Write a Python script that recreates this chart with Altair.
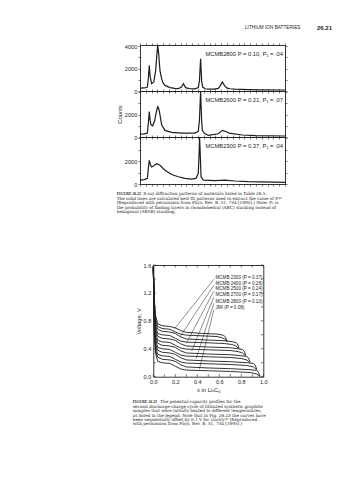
import altair as alt
import pandas as pd

SANS = "Liberation Sans"
SERIF = "Liberation Serif"
CAPFONT = "DejaVu Serif"
INK = "#1e1e1e"
PAGE_W, PAGE_H = 357, 480

# ---------------- page text ----------------
header_left = "LITHIUM ION BATTERIES"
header_right = "26.21"

cap1_head = "FIGURE 26.22"
cap1_lines = [
    "X-ray diffraction patterns of materials listed in Table 26.5.",
    "The solid lines are calculated best-fit patterns used to extract the value of P.⁴⁶",
    "(Reproduced with permission from Phys. Rev. B. 51, 734 [1995].) Note: P₁ is",
    "the probability of finding layers in rhombohedral (ABC) stacking instead of",
    "hexagonal (ABAB) stacking.",
]
cap2_head = "FIGURE 26.23"
cap2_lines = [
    "The potential-capacity profiles for the",
    "second discharge-charge cycle of lithiated synthetic graphite",
    "samples that were initially heated to different temperatures,",
    "as listed in the legend. Note that in Fig. 26.23 the curves have",
    "been sequentially offset by 0.1 V for clarity.⁴⁶ (Reproduced",
    "with permission from Phys. Rev. B. 51, 734 [1995].)",
]

# ---------------- XRD patterns (arbitrary 2-theta units 0..100) ----------------
xrd_labels = ["MCMB2800 P = 0.10, P₁ = .04",
              "MCMB2600 P = 0.21, P₁ = .07",
              "MCMB2300 P = 0.37, P₁ = .04"]
xrd1_t = [0, 3, 5.1, 5.8, 6.4, 7.0, 8.0, 9.5, 10.8, 11.6, 12.2, 12.9, 13.8, 14.9, 16, 17.2, 20.7, 24,
          26.4, 28.7, 29.9, 31.5, 34, 37.9, 40.2, 41.0, 41.8, 42.5, 43.2, 45, 47.1, 51, 54, 55.5, 56.8,
          58.2, 59.8, 62, 65.5, 74.7, 85, 100]
xrd1_c = [260, 270, 350, 1200, 2280, 1300, 650, 800, 1800, 3200, 4300, 3300, 1800, 1100, 700, 500, 300,
          230, 220, 350, 650, 300, 220, 190, 300, 900, 2870, 900, 350, 200, 160, 170, 230, 500, 800, 500,
          280, 200, 160, 120, 100, 90]
xrd2_t = [0, 3, 5.1, 5.8, 6.4, 7.0, 7.6, 8.7, 10, 11.2, 12.2, 13.0, 13.8, 14.9, 17.2, 21.8, 28.7, 37.9,
          40.2, 41.0, 41.8, 42.5, 43.0, 44.5, 47.1, 54.0, 56.8, 60, 61.4, 70.6, 79.8, 100]
xrd2_c = [265, 280, 350, 1300, 2260, 1500, 1090, 1000, 1400, 2200, 2700, 2500, 1970, 1090, 590, 410, 350,
          350, 500, 1500, 4300, 1500, 600, 300, 150, 290, 590, 450, 350, 180, 120, 90]
xrd3_t = [0, 3, 5.1, 5.7, 6.4, 7.2, 8.0, 9.2, 11.5, 13.8, 17.2, 21.8, 26.4, 31.0, 35.6, 38.6, 40.2, 40.7,
          41.1, 41.6, 42.1, 43.7, 51.7, 58.6, 65.5, 74.7, 100]
xrd3_c = [340, 380, 490, 1300, 2060, 1700, 1490, 1570, 1770, 1630, 1200, 830, 630, 490, 430, 490, 910,
          2500, 4300, 2400, 630, 340, 290, 340, 260, 200, 140]

# ---------------- potential-capacity curves ----------------
groups = ["MCMB 2300", "MCMB 2400", "MCMB 2500", "MCMB 2700", "MCMB 2800", "JMI"]
legend_text = ["MCMB 2300 (P = 0.37)", "MCMB 2400 (P = 0.28)", "MCMB 2500 (P = 0.24)",
               "MCMB 2700 (P = 0.17)", "MCMB 2800 (P = 0.10)", "JMI (P = 0.08)"]
legend_v = [1.42, 1.335, 1.25, 1.165, 1.075, 0.985]
legend_x = [0.565, 0.565, 0.565, 0.565, 0.565, 0.565]
leader_x0 = [0.55, 0.55, 0.55, 0.55, 0.55, 0.55]
leader_v0 = [1.395, 1.31, 1.225, 1.14, 1.05, 0.96]
leader_x1 = [0.19, 0.24, 0.30, 0.35, 0.39, 0.42]
leader_v1 = [0.68, 0.565, 0.48, 0.37, 0.26, 0.11]

dis_x = {
    "MCMB 2300": [0, .004, .01, .02, .04, .08, .15, .2, .25, .3, .45, .58, .62, .65, .67],
    "MCMB 2400": [0, .004, .01, .02, .04, .08, .15, .2, .25, .3, .5, .65, .72, .75, .78],
    "MCMB 2500": [0, .004, .01, .02, .04, .08, .15, .2, .25, .3, .5, .7, .77, .81, .84],
    "MCMB 2700": [0, .004, .01, .02, .04, .08, .15, .2, .25, .3, .5, .7, .8, .85, .88],
    "MCMB 2800": [0, .004, .01, .02, .04, .08, .15, .2, .25, .3, .5, .7, .85, .91, .94],
    "JMI":       [0, .004, .01, .02, .04, .08, .15, .2, .25, .3, .5, .7, .88, .94, .97],
}
dis_v = {
    "MCMB 2300": [1.58, 1.35, 1.05, .84, .72, .69, .68, .64, .61, .595, .585, .575, .56, .54, .5],
    "MCMB 2400": [1.58, 1.3, .95, .74, .62, .6, .59, .55, .51, .495, .485, .475, .46, .44, .4],
    "MCMB 2500": [1.58, 1.25, .86, .64, .52, .5, .49, .45, .41, .395, .385, .375, .36, .34, .3],
    "MCMB 2700": [1.58, 1.2, .78, .54, .42, .4, .39, .35, .31, .295, .285, .275, .26, .24, .2],
    "MCMB 2800": [1.58, 1.15, .7, .44, .32, .3, .29, .25, .21, .195, .185, .175, .16, .14, .1],
    "JMI":       [1.58, 1.1, .62, .34, .22, .2, .19, .15, .11, .095, .085, .075, .06, .04, .005],
}
chg_x = {
    "MCMB 2300": [.67, .655, .64, .62, .58, .45, .3, .25, .2, .15, .08, .04, .02, .01, 0],
    "MCMB 2400": [.78, .765, .75, .72, .65, .5, .3, .25, .2, .15, .08, .04, .02, .01, 0],
    "MCMB 2500": [.84, .825, .81, .77, .7, .5, .3, .25, .2, .15, .08, .04, .02, .01, 0],
    "MCMB 2700": [.88, .865, .85, .8, .7, .5, .3, .25, .2, .15, .08, .04, .02, .01, 0],
    "MCMB 2800": [.94, .925, .91, .85, .7, .5, .3, .25, .2, .15, .08, .04, .02, .01, 0],
    "JMI":       [.97, .955, .94, .88, .7, .5, .3, .25, .2, .15, .08, .04, .02, .01, 0],
}
chg_v = {
    "MCMB 2300": [.51, .57, .59, .6, .61, .62, .635, .66, .7, .72, .73, .76, .88, 1.1, 1.55],
    "MCMB 2400": [.41, .47, .49, .5, .515, .525, .54, .57, .62, .64, .65, .68, .78, 1.0, 1.55],
    "MCMB 2500": [.31, .37, .39, .4, .415, .425, .44, .47, .52, .54, .55, .58, .68, .9, 1.55],
    "MCMB 2700": [.21, .27, .29, .3, .315, .325, .34, .37, .42, .44, .45, .48, .58, .8, 1.55],
    "MCMB 2800": [.11, .17, .19, .2, .215, .225, .24, .27, .32, .34, .35, .38, .48, .7, 1.55],
    "JMI":       [.005, .07, .09, .1, .115, .125, .14, .17, .22, .24, .25, .28, .38, .6, 1.55],
}

x_tick_vals = [0, 0.2, 0.4, 0.6, 0.8, 1.0]
x_minor = [0, 0.1, 0.2, 0.3, 0.4, 0.5, 0.6, 0.7, 0.8, 0.9, 1.0]
v_tick_vals = [0, 0.4, 0.8, 1.2, 1.6]
v_minor = [0, 0.2, 0.4, 0.6, 0.8, 1.0, 1.2, 1.4, 1.6]
xrd_xticks = list(range(0, 101, 4))
xrd_yticks = [0, 1000, 2000, 3000, 4000]

# ---------------- page layout (pixels) ----------------
XRD_L, XRD_R = 140, 285
XRD_ROWS = [(45, 91), (91, 137), (137, 184)]
V_L, V_R, V_T, V_B = 153.3, 263.3, 265, 376.7


def text_layer(s, x, y, size, font=SANS, weight="normal", align="left", style="normal"):
    return alt.Chart(pd.DataFrame({"s": [s]})).mark_text(
        font=font, fontSize=size, fontWeight=weight, fontStyle=style, align=align,
        baseline="middle", color=INK
    ).encode(text="s:N", x=alt.value(x), y=alt.value(y))


def xrd_panel(t, c, label, top, bottom, show4000, title):
    df = pd.DataFrame({"t": t, "c": c})
    xs = alt.Scale(domain=[0, 100], range=[XRD_L, XRD_R], nice=False, zero=False)
    ys = alt.Scale(domain=[0, 4100], range=[bottom, top], nice=False, zero=False, clamp=True)
    common = dict(domainColor=INK, domainWidth=0.9, tickColor=INK, tickWidth=0.6, tickSize=2,
                  grid=False, labelFont=SANS, labelFontSize=5.6, labelColor=INK, labelPadding=1.2,
                  labelFlush=False, labelOverlap=False)
    if show4000:
        expr = "datum.value % 2000 == 0 ? format(datum.value, 'd') : ''"
    else:
        expr = "(datum.value == 0 || datum.value == 2000) ? format(datum.value, 'd') : ''"
    yaxis = dict(orient="left", values=xrd_yticks, labelExpr=expr, offset=-XRD_L, **common)
    if title:
        yaxis.update(title=title, titleFont=SANS, titleFontSize=5.8, titleFontWeight="normal",
                     titleColor=INK, titlePadding=2)
    else:
        yaxis.update(title=None)
    base = alt.Chart(df).mark_line(color=INK, strokeWidth=1.2).encode(
        x=alt.X("t:Q", scale=xs, axis=alt.Axis(orient="bottom", values=xrd_xticks, labels=False,
                                                title=None, offset=-(PAGE_H - bottom), **common)),
        y=alt.Y("c:Q", scale=ys, axis=alt.Axis(**yaxis)),
    )
    ghost = alt.Chart(df).mark_line(opacity=0).encode(
        x=alt.X("t:Q", scale=xs, axis=alt.Axis(orient="top", values=xrd_xticks, labels=False,
                                                title=None, offset=-top, **common)),
        y=alt.Y("c:Q", scale=ys, axis=alt.Axis(orient="right", values=xrd_yticks, labels=False,
                                                title=None, offset=-(PAGE_W - XRD_R), **common)),
    )
    txt = text_layer(label, XRD_R - 2, top + 9, 5.8, align="right")
    return [base, ghost, txt]


def caption(head, lines, x0, y0, lh, size, head_size, head_dx):
    layers = [text_layer(head, x0, y0, head_size, font=SERIF, weight="bold"),
              text_layer(lines[0], x0 + head_dx, y0, size, font=CAPFONT)]
    for i, s in enumerate(lines[1:], start=1):
        layers.append(text_layer(s, x0, y0 + lh * i, size, font=CAPFONT))
    return layers


layers = []
# header
layers.append(text_layer(header_left, 245, 27.7, 4.7))
layers.append(text_layer(header_right, 317, 27.7, 6, weight="bold"))

# XRD panels
layers += xrd_panel(xrd1_t, xrd1_c, xrd_labels[0], XRD_ROWS[0][0], XRD_ROWS[0][1], True, None)
layers += xrd_panel(xrd2_t, xrd2_c, xrd_labels[1], XRD_ROWS[1][0], XRD_ROWS[1][1], False, "Counts")
layers += xrd_panel(xrd3_t, xrd3_c, xrd_labels[2], XRD_ROWS[2][0], XRD_ROWS[2][1], False, None)

# caption 1
layers += caption(cap1_head, cap1_lines, 116.7, 194.3, 4.4, 4.2, 3.8, 26.5)

# potential-capacity chart
rows = []
for g in groups:
    for k, (xx, vv) in enumerate(zip(dis_x[g], dis_v[g])):
        rows.append({"x": xx, "v": vv, "s": g + " d", "o": k})
    for k, (xx, vv) in enumerate(zip(chg_x[g], chg_v[g])):
        rows.append({"x": xx, "v": vv, "s": g + " c", "o": k})
curves = pd.DataFrame(rows)

vx = alt.Scale(domain=[0, 1], range=[V_L, V_R], nice=False, zero=False)
vy = alt.Scale(domain=[0, 1.6], range=[V_B, V_T], nice=False, zero=False)
ax = dict(domainColor=INK, domainWidth=0.9, ticks=False, grid=False, labelFont=SANS, labelFontSize=5.6,
          labelColor=INK, titleFont=SANS, titleFontSize=5.8, titleFontWeight="normal", titleColor=INK,
          labelFlush=False, labelOverlap=False)

layers.append(alt.Chart(curves).mark_line(color=INK, strokeWidth=0.9).encode(
    x=alt.X("x:Q", scale=vx, axis=alt.Axis(orient="bottom", values=x_tick_vals, format=".1f",
                                            title="x in LiₓC₆", labelPadding=2.5, titlePadding=1.5,
                                            offset=-(PAGE_H - V_B), **ax)),
    y=alt.Y("v:Q", scale=vy, axis=alt.Axis(orient="left", values=v_tick_vals, format=".1f",
                                            title="Voltage, V", labelPadding=2.5, titlePadding=2,
                                            offset=-V_L, **ax)),
    detail="s:N", order="o:Q",
))
layers.append(alt.Chart(curves).mark_line(opacity=0).encode(
    x=alt.X("x:Q", scale=vx, axis=alt.Axis(orient="top", labels=False, title=None, offset=-V_T, **ax)),
    y=alt.Y("v:Q", scale=vy, axis=alt.Axis(orient="right", labels=False, title=None,
                                            offset=-(PAGE_W - V_R), **ax)),
))
xt = pd.DataFrame({"x": x_minor})
vt = pd.DataFrame({"v": v_minor})
tick_style = dict(color=INK, strokeWidth=0.6)
layers.append(alt.Chart(xt).mark_rule(**tick_style).encode(
    x=alt.X("x:Q", scale=vx, axis=None), y=alt.value(V_B), y2=alt.value(V_B - 2.5)))
layers.append(alt.Chart(xt).mark_rule(**tick_style).encode(
    x=alt.X("x:Q", scale=vx, axis=None), y=alt.value(V_T), y2=alt.value(V_T + 2.5)))
layers.append(alt.Chart(vt).mark_rule(**tick_style).encode(
    y=alt.Y("v:Q", scale=vy, axis=None), x=alt.value(V_L), x2=alt.value(V_L + 2.5)))
layers.append(alt.Chart(vt).mark_rule(**tick_style).encode(
    y=alt.Y("v:Q", scale=vy, axis=None), x=alt.value(V_R), x2=alt.value(V_R - 2.5)))

lead = pd.DataFrame({"x0": leader_x0, "v0": leader_v0, "x1": leader_x1, "v1": leader_v1})
layers.append(alt.Chart(lead).mark_rule(color=INK, strokeWidth=0.5).encode(
    x=alt.X("x0:Q", scale=vx, axis=None), y=alt.Y("v0:Q", scale=vy, axis=None), x2="x1:Q", y2="v1:Q"))
leg = pd.DataFrame({"s": legend_text, "v": legend_v, "x": legend_x})
layers.append(alt.Chart(leg).mark_text(font=SANS, fontSize=4.6, align="left", baseline="middle",
                                       color=INK).encode(
    x=alt.X("x:Q", scale=vx, axis=None), y=alt.Y("v:Q", scale=vy, axis=None), text="s:N"))

# caption 2
layers += caption(cap2_head, cap2_lines, 132.7, 402.3, 4.4, 4.2, 3.8, 27.5)

chart = alt.layer(*layers).resolve_scale(x="independent", y="independent").resolve_axis(
    x="independent", y="independent").properties(
    width=PAGE_W, height=PAGE_H, padding={"left": 0, "top": 0, "right": 0, "bottom": 0},
    background="white"
).configure_view(stroke=None)

chart.save("out.html", embed_options={"renderer": "svg", "actions": False})
